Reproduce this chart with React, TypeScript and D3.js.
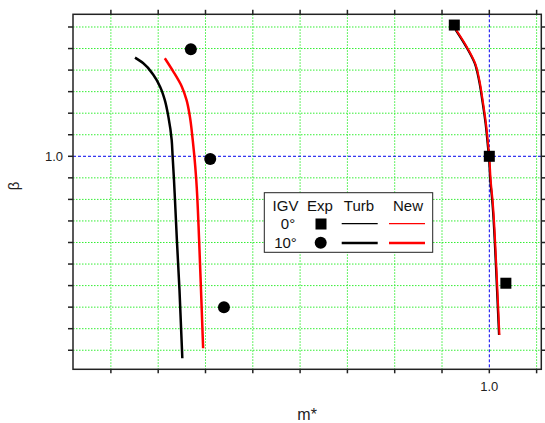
import React from "react";
import * as d3 from "d3";

const turb10X = [0.251, 0.2685, 0.29, 0.304, 0.314, 0.3215, 0.3285, 0.3305, 0.3334, 0.3355, 0.3395, 0.345, 0.351];
const turb10Y = [1.458, 1.432, 1.377, 1.323, 1.261, 1.184, 1.076, 1.0, 0.89, 0.797, 0.612, 0.38, 0.063];
const new10X = [0.314, 0.332, 0.35, 0.36, 0.367, 0.373, 0.3765, 0.3805, 0.3865, 0.3905, 0.395];
const new10Y = [1.455, 1.393, 1.323, 1.261, 1.184, 1.076, 1.0, 0.89, 0.612, 0.38, 0.109];
const turb0X = [0.929, 0.951, 0.969, 0.978, 0.985, 0.992, 0.997, 0.999, 1.002, 1.006, 1.014, 1.0205];
const new0X = [0.93, 0.952, 0.97, 0.979, 0.986, 0.993, 0.998, 1.0, 1.003, 1.007, 1.015, 1.0215];
const curve0Y = [1.586, 1.509, 1.432, 1.354, 1.261, 1.153, 1.045, 1.0, 0.89, 0.797, 0.488, 0.171];
const exp0X = [0.926, 1.0, 1.035];
const exp0Y = [1.609, 1.0, 0.411];
const exp10X = [0.369, 0.41, 0.439];
const exp10Y = [1.497, 0.987, 0.299];
const xTicks = [0.2, 0.3, 0.4, 0.5, 0.6, 0.7, 0.8, 0.9, 1.0, 1.1];
const yTicks = [0.1, 0.2, 0.3, 0.4, 0.5, 0.6, 0.7, 0.8, 0.9, 1.0, 1.1, 1.2, 1.3, 1.4, 1.5, 1.6];
const xLabeled = [1.0];
const yLabeled = [1.0];

const L = 73, R = 541.3, T = 14.3, B = 369.3;
const FONT = "Liberation Sans, Arial, sans-serif";

export default function App() {
  const x = d3.scaleLinear().domain([0.1199, 1.1099]).range([L, R]);
  const y = d3.scaleLinear().domain([0.0116, 1.6589]).range([B, T]);
  const line = d3
    .line<[number, number]>()
    .x((d) => x(d[0]))
    .y((d) => y(d[1]))
    .curve(d3.curveMonotoneY);
  const zip = (a: number[], b: number[]) =>
    a.map((v, i) => [v, b[i]] as [number, number]).sort((p, q) => p[1] - q[1]);
  const fmt = d3.format(".1f");

  return (
    <svg width={545} height={423} style={{ position: "absolute", left: 0, top: 0, background: "#fff" }}>
      {/* grid */}
      {xTicks.filter((t) => t !== 1.0).map((t) => (
        <line key={"gx" + t} x1={x(t)} x2={x(t)} y1={T} y2={B} stroke="#33ee33" strokeWidth={1} strokeDasharray="1.5,1.5" />
      ))}
      {yTicks.filter((t) => t !== 1.0).map((t) => (
        <line key={"gy" + t} x1={L} x2={R} y1={y(t)} y2={y(t)} stroke="#33ee33" strokeWidth={1} strokeDasharray="1.5,1.5" />
      ))}
      <line x1={x(1.0)} x2={x(1.0)} y1={T} y2={B} stroke="#0000ee" strokeWidth={1} strokeDasharray="3,2" />
      <line x1={L} x2={R} y1={y(1.0)} y2={y(1.0)} stroke="#0000ee" strokeWidth={1} strokeDasharray="3,2" />

      {/* curves */}
      <path d={line(zip(turb10X, turb10Y)) || ""} fill="none" stroke="#000" strokeWidth={2.5} />
      <path d={line(zip(new10X, new10Y)) || ""} fill="none" stroke="#f00" strokeWidth={2.5} />
      <path d={line(zip(turb0X, curve0Y)) || ""} fill="none" stroke="#000" strokeWidth={2.2} />
      <path d={line(zip(new0X, curve0Y)) || ""} fill="none" stroke="#f00" strokeWidth={2} />

      {/* experiments */}
      {exp0X.map((v, i) => (
        <rect key={"s" + i} x={x(v) - 5.5} y={y(exp0Y[i]) - 5.5} width={11} height={11} fill="#000" />
      ))}
      {exp10X.map((v, i) => (
        <circle key={"c" + i} cx={x(v)} cy={y(exp10Y[i])} r={6} fill="#000" />
      ))}

      {/* frame and ticks */}
      <rect x={L} y={T} width={R - L} height={B - T} fill="none" stroke="#222" strokeWidth={1.5} />
      {xTicks.map((t) => (
        <g key={"tx" + t}>
          <line x1={x(t)} x2={x(t)} y1={B} y2={B + 4} stroke="#222" strokeWidth={1.5} />
          <line x1={x(t)} x2={x(t)} y1={T} y2={T - 4.5} stroke="#222" strokeWidth={1.5} />
        </g>
      ))}
      {yTicks.map((t) => (
        <g key={"ty" + t}>
          <line x1={L} x2={L - 5} y1={y(t)} y2={y(t)} stroke="#222" strokeWidth={1.5} />
          <line x1={R} x2={R + 4} y1={y(t)} y2={y(t)} stroke="#222" strokeWidth={1.5} />
        </g>
      ))}
      {xLabeled.map((t) => (
        <text key={"lx" + t} x={x(t)} y={B + 22} textAnchor="middle" fontFamily={FONT} fontSize={13} fill="#222">
          {fmt(t)}
        </text>
      ))}
      {yLabeled.map((t) => (
        <text key={"ly" + t} x={L - 10} y={y(t) + 4.5} textAnchor="end" fontFamily={FONT} fontSize={13} fill="#222">
          {fmt(t)}
        </text>
      ))}
      <text x={(L + R) / 2} y={420} textAnchor="middle" fontFamily={FONT} fontSize={16} fill="#222">m*</text>
      <text transform={`translate(19,186) rotate(-90)`} textAnchor="middle" fontFamily={FONT} fontSize={15} fill="#222">β</text>

      {/* legend */}
      <g fontFamily={FONT} fontSize={15} fill="#111">
        <rect x={264.3} y={192.7} width={168.4} height={59.6} fill="#fff" stroke="#222" strokeWidth={1} />
        <text x={285.5} y={210.5} textAnchor="middle">IGV</text>
        <text x={320} y={210.5} textAnchor="middle">Exp</text>
        <text x={359} y={210.5} textAnchor="middle">Turb</text>
        <text x={408} y={210.5} textAnchor="middle">New</text>
        <text x={288} y={228.5} textAnchor="middle">0°</text>
        <text x={285.5} y={248} textAnchor="middle">10°</text>
        <rect x={315.5} y={218.5} width={11} height={11} fill="#000" />
        <circle cx={320.7} cy={242.7} r={6} fill="#000" />
        <line x1={341.7} x2={377.7} y1={223.7} y2={223.7} stroke="#000" strokeWidth={1.3} />
        <line x1={389} x2={425} y1={223.7} y2={223.7} stroke="#f00" strokeWidth={1.3} />
        <line x1={341.7} x2={377.7} y1={243} y2={243} stroke="#000" strokeWidth={2.5} />
        <line x1={389} x2={425} y1={243} y2={243} stroke="#f00" strokeWidth={2.5} />
      </g>
    </svg>
  );
}
